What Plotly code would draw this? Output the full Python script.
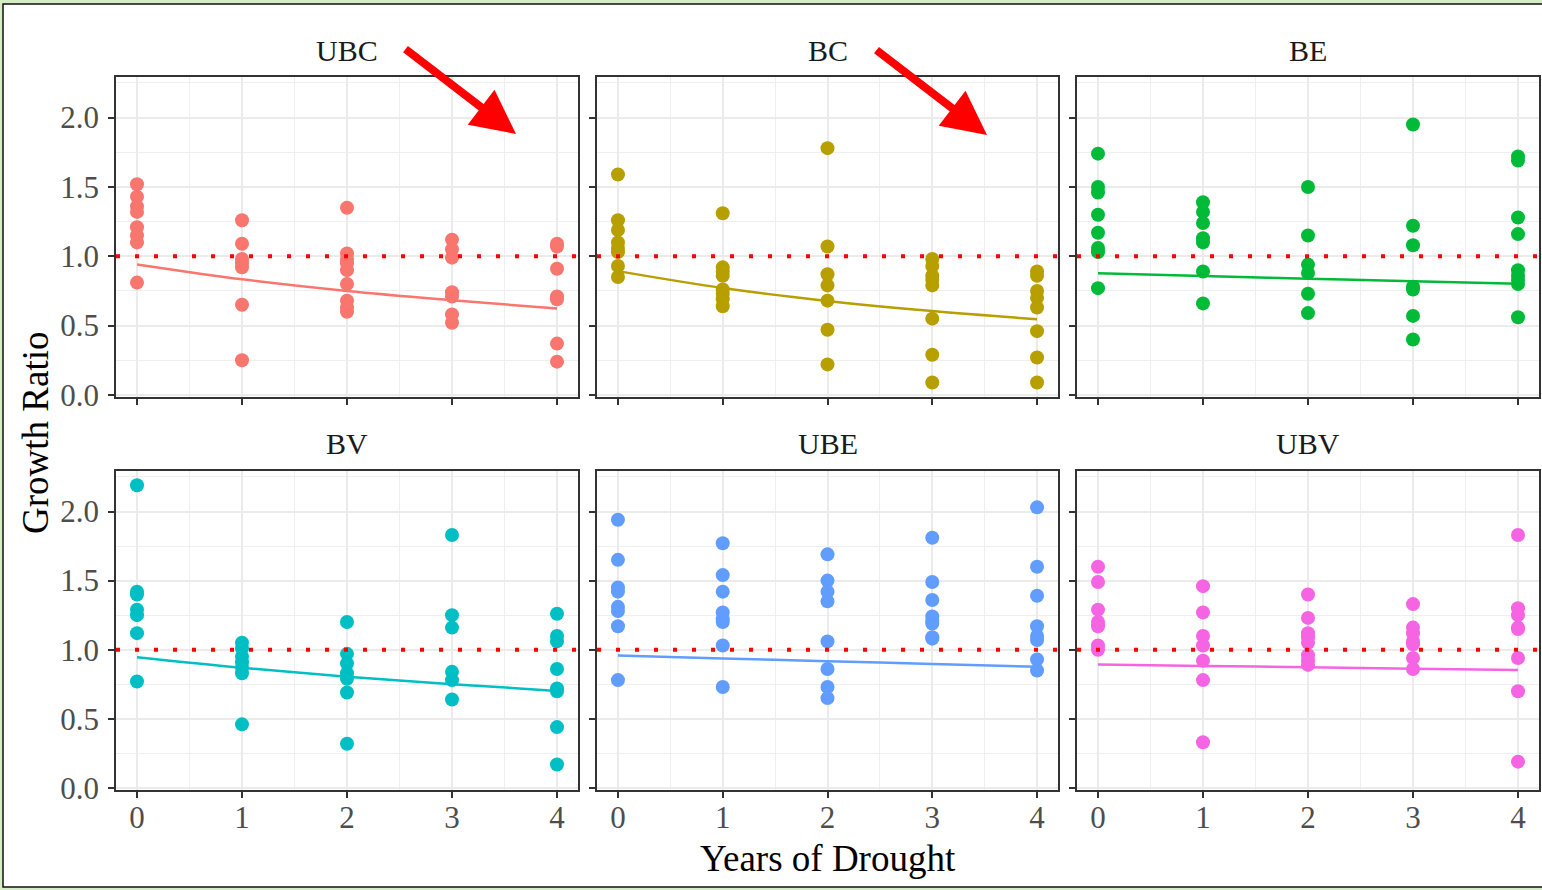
import plotly.graph_objects as go

# ---------------- data ----------------
panels = ["UBC", "BC", "BE", "BV", "UBE", "UBV"]
colors = ["#F8766D", "#B79F00", "#00BA38", "#00BFC4", "#619CFF", "#F564E3"]
years = [0, 1, 2, 3, 4]
x_ticks = [0, 1, 2, 3, 4]
y_ticks = [0.0, 0.5, 1.0, 1.5, 2.0]

ubc_ratio = [
    [1.52, 1.43, 1.36, 1.32, 1.21, 1.15, 1.10, 0.81],
    [1.26, 1.09, 0.98, 0.95, 0.92, 0.65, 0.25],
    [1.35, 1.02, 0.98, 0.95, 0.90, 0.80, 0.68, 0.63, 0.60],
    [1.12, 1.05, 0.99, 0.74, 0.71, 0.58, 0.52],
    [1.09, 1.07, 0.91, 0.71, 0.69, 0.37, 0.24],
]
bc_ratio = [
    [1.59, 1.26, 1.19, 1.10, 1.06, 1.03, 0.93, 0.85],
    [1.31, 0.92, 0.89, 0.86, 0.76, 0.73, 0.69, 0.64],
    [1.78, 1.07, 0.87, 0.79, 0.68, 0.47, 0.22],
    [0.98, 0.93, 0.86, 0.83, 0.79, 0.55, 0.29, 0.09],
    [0.89, 0.86, 0.75, 0.70, 0.63, 0.46, 0.27, 0.09],
]
be_ratio = [
    [1.74, 1.50, 1.46, 1.30, 1.17, 1.06, 1.03, 0.77],
    [1.39, 1.32, 1.24, 1.13, 1.10, 0.89, 0.66],
    [1.50, 1.15, 0.94, 0.88, 0.73, 0.59],
    [1.95, 1.22, 1.08, 0.78, 0.76, 0.57, 0.40],
    [1.72, 1.69, 1.28, 1.16, 0.90, 0.86, 0.83, 0.80, 0.56],
]
bv_ratio = [
    [2.19, 1.42, 1.40, 1.29, 1.25, 1.12, 0.77],
    [1.05, 1.01, 0.95, 0.91, 0.87, 0.83, 0.46],
    [1.20, 0.97, 0.90, 0.83, 0.79, 0.69, 0.32],
    [1.83, 1.25, 1.16, 0.84, 0.78, 0.64],
    [1.26, 1.10, 1.06, 0.86, 0.72, 0.70, 0.44, 0.17],
]
ube_ratio = [
    [1.94, 1.65, 1.45, 1.42, 1.31, 1.28, 1.17, 0.78],
    [1.77, 1.54, 1.42, 1.27, 1.22, 1.20, 1.03, 0.73],
    [1.69, 1.50, 1.42, 1.35, 1.06, 0.86, 0.73, 0.65],
    [1.81, 1.49, 1.36, 1.24, 1.21, 1.19, 1.09, 1.08],
    [2.03, 1.60, 1.39, 1.17, 1.10, 1.07, 0.93, 0.85],
]
ubv_ratio = [
    [1.60, 1.49, 1.29, 1.20, 1.17, 1.03, 1.00],
    [1.46, 1.27, 1.10, 1.03, 0.92, 0.78, 0.33],
    [1.40, 1.23, 1.12, 1.09, 1.05, 0.96, 0.92, 0.89],
    [1.33, 1.16, 1.12, 1.06, 1.04, 0.94, 0.86],
    [1.83, 1.30, 1.25, 1.16, 1.15, 0.94, 0.70, 0.19],
]
all_ratio = [ubc_ratio, bc_ratio, be_ratio, bv_ratio, ube_ratio, ubv_ratio]

# fitted trend curves, read at each year
trend_ubc = [0.941, 0.834, 0.750, 0.683, 0.623]
trend_bc = [0.893, 0.771, 0.678, 0.605, 0.546]
trend_be = [0.877, 0.857, 0.838, 0.819, 0.802]
trend_bv = [0.946, 0.869, 0.805, 0.751, 0.702]
trend_ube = [0.958, 0.937, 0.917, 0.897, 0.877]
trend_ubv = [0.893, 0.883, 0.873, 0.863, 0.853]
all_trend = [trend_ubc, trend_bc, trend_be, trend_bv, trend_ube, trend_ubv]

reference_level = 1.0

# ---------------- layout geometry ----------------
W, H = 1542, 890
col_px = [(116, 578), (597, 1058), (1077, 1539)]
row_px = [(77, 397), (471, 790)]
FONT = "Liberation Serif"

fig = go.Figure()
layout = dict(
    width=W, height=H,
    margin=dict(l=0, r=0, t=0, b=0, pad=0, autoexpand=False),
    paper_bgcolor="#D6EDC4",
    plot_bgcolor="white",
    showlegend=False,
    font=dict(family=FONT, color="#4D4D4D", size=30),
)
annotations = []
shapes = [dict(type="rect", xref="paper", yref="paper",
               x0=3 / W, x1=1.01, y0=1 - 887 / H, y1=1 - 4 / H,
               fillcolor="white", line=dict(color="#111111", width=1.5),
               layer="below")]

for i, name in enumerate(panels):
    r, c = divmod(i, 3)
    k = i + 1
    xs = "" if k == 1 else str(k)
    xd = [col_px[c][0] / W, col_px[c][1] / W]
    yd = [1 - row_px[r][1] / H, 1 - row_px[r][0] / H]
    layout["xaxis" + xs] = dict(
        domain=xd, anchor="y" + xs, range=[-0.2, 4.2], automargin=False,
        tickmode="array", tickvals=x_ticks, ticktext=[str(t) for t in x_ticks],
        showticklabels=(r == 1), ticks="outside", ticklen=6, tickwidth=2,
        tickcolor="#333333", showgrid=True, gridcolor="#EBEBEB", gridwidth=2,
        minor=dict(tickvals=[-0.5, 0.5, 1.5, 2.5, 3.5], showgrid=True,
                   gridcolor="#EFEFEF", gridwidth=1, ticks=""),
        showline=True, linecolor="#333333", linewidth=1.5, mirror=True,
        zeroline=False, ticklabelstandoff=-7,
        tickfont=dict(family=FONT, size=31, color="#4D4D4D"),
    )
    layout["yaxis" + xs] = dict(
        domain=yd, anchor="x" + xs, range=[-0.015, 2.293], automargin=False,
        tickmode="array", tickvals=y_ticks, ticktext=[f"{t:.1f}" for t in y_ticks],
        showticklabels=(c == 0), ticks="outside", ticklen=6, tickwidth=2,
        tickcolor="#333333", showgrid=True, gridcolor="#EBEBEB", gridwidth=2,
        minor=dict(tickvals=[0.25, 0.75, 1.25, 1.75, 2.25], showgrid=True,
                   gridcolor="#EFEFEF", gridwidth=1, ticks=""),
        showline=True, linecolor="#333333", linewidth=1.5, mirror=True,
        zeroline=False, ticklabelstandoff=3,
        tickfont=dict(family=FONT, size=31, color="#4D4D4D"),
    )
    # points
    px, py = [], []
    for yr, vals in zip(years, all_ratio[i]):
        px += [yr] * len(vals)
        py += vals
    fig.add_trace(go.Scatter(
        x=px, y=py, mode="markers", xaxis="x" + xs, yaxis="y" + xs,
        marker=dict(size=14, color=colors[i], line=dict(width=0)),
        hoverinfo="x+y"))
    # trend line
    fig.add_trace(go.Scatter(
        x=years, y=all_trend[i], mode="lines", xaxis="x" + xs, yaxis="y" + xs,
        line=dict(color=colors[i], width=2.5, shape="spline"), hoverinfo="skip"))
    # dotted reference line
    shapes.append(dict(type="line", xref=f"x{xs} domain", yref="y" + xs,
                       x0=0, x1=1, y0=reference_level, y1=reference_level,
                       line=dict(color="#FF0000", width=4, dash="4px,15px")))
    # strip title
    annotations.append(dict(
        text=name, xref="paper", yref="paper",
        x=(xd[0] + xd[1]) / 2, y=1 - (50 if r == 0 else 443) / H,
        xanchor="center", yanchor="middle", showarrow=False,
        font=dict(family=FONT, size=30, color="#1A1A1A")))

# axis titles
annotations.append(dict(text="Years of Drought", xref="paper", yref="paper",
                        x=828 / W, y=1 - 858 / H, xanchor="center", yanchor="middle",
                        showarrow=False, font=dict(family=FONT, size=37, color="black")))
annotations.append(dict(text="Growth Ratio", xref="paper", yref="paper",
                        x=35 / W, y=1 - 433 / H, xanchor="center", yanchor="middle",
                        textangle=-90, showarrow=False,
                        font=dict(family=FONT, size=37, color="black")))

# red arrows
for tip in [(516, 134), (987, 135)]:
    annotations.append(dict(
        text="", xref="paper", yref="paper", x=tip[0] / W, y=1 - tip[1] / H,
        ax=-112, ay=-86, showarrow=True, arrowhead=2, arrowsize=1.1,
        arrowwidth=8, arrowcolor="#FF0000"))

layout["annotations"] = annotations
layout["shapes"] = shapes
fig.update_layout(**layout)
fig.write_html(
    "out.html",
    config={"displayModeBar": False},
    post_script="document.body.style.margin='0';document.body.style.padding='0';"
                "document.body.style.overflow='hidden';",
)
